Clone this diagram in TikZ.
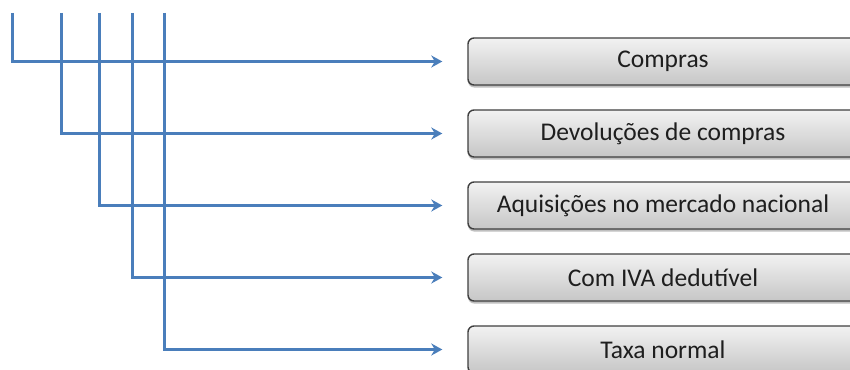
\documentclass[tikz,border=0pt]{standalone}
\usepackage{fontspec}
\setmainfont{Carlito}
\usetikzlibrary{arrows.meta,shadows}
\definecolor{linkblue}{HTML}{4A7EBB}
\definecolor{boxtop}{HTML}{F2F2F2}
\definecolor{boxbot}{HTML}{C6C6C6}
\definecolor{boxedge}{HTML}{3F3F3F}
\definecolor{txt}{HTML}{1E1E1E}
\tikzset{
  itembox/.style={draw=boxedge, line width=1.4pt, rounded corners=6pt,
    top color=boxtop, bottom color=boxbot,
    minimum width=390pt, minimum height=47pt, inner sep=0pt,
    font=\fontsize{25.5}{28}\selectfont, text=txt,
    drop shadow={shadow xshift=0pt, shadow yshift=-2.5pt, opacity=0.25, fill=black}},
  feed/.style={draw=linkblue, line width=3pt, line join=miter,
    -{Stealth[length=11pt,width=12pt,inset=3.5pt]}, shorten >=25pt}
}
\begin{document}
\begin{tikzpicture}[x=1pt,y=-1pt]
\useasboundingbox[fill=white] (0,0) rectangle (850,369);
\clip (0,0) rectangle (850,369);

% category boxes, cut by the right and bottom edges
\node[itembox] (b1) at (663,61.5)  {Compras};
\node[itembox] (b2) at (663,133.5) {Devoluções de compras};
\node[itembox] (b3) at (663,205.5) {Aquisições no mercado nacional};
\node[itembox] (b4) at (663,277.5) {Com IVA dedutível};
\node[itembox] (b5) at (663,349.5) {Taxa normal};

% tops of the vertical feeds
\coordinate (t1) at (12,13);
\coordinate (t2) at (61,13);
\coordinate (t3) at (99.5,13);
\coordinate (t4) at (132.5,13);
\coordinate (t5) at (164,13);

\draw[feed] (t1) |- (b1.west);
\draw[feed] (t2) |- (b2.west);
\draw[feed] (t3) |- (b3.west);
\draw[feed] (t4) |- (b4.west);
\draw[feed] (t5) |- (b5.west);
\end{tikzpicture}
\end{document}
